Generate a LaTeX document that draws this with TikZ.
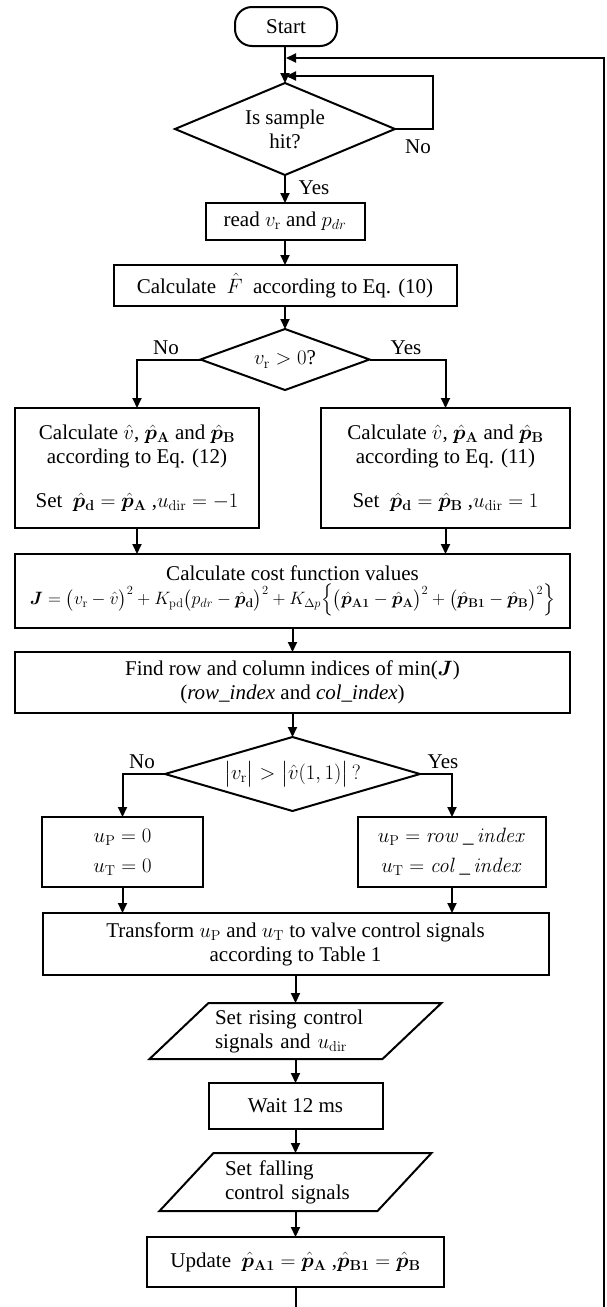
\documentclass[tikz,border=0pt]{standalone}
\usepackage{amsmath}
\usepackage{bm}
\usepackage{graphicx}
\usepackage[no-math]{fontspec}
\setmainfont{Liberation Serif}
\usetikzlibrary{shapes.geometric,arrows.meta}
\newcommand{\phx}[1]{\hat{\bm{p}}_{\mathbf{#1}}}
\tikzset{
  every node/.style={font=\fontsize{21}{24}\selectfont},
  box/.style={draw, line width=2pt, rectangle, inner sep=0pt, outer sep=0pt, align=center},
  dia/.style={draw, line width=2pt, diamond, inner sep=0pt, outer sep=0pt, align=center},
  para/.style={rectangle, inner sep=0pt, outer sep=0pt, align=left},
  lbl/.style={inner sep=0pt},
  ln/.style={line width=2pt},
  arr/.style={line width=2pt, -{Triangle[length=10pt,width=9pt]}},
}
\begin{document}
\begin{tikzpicture}[x=1pt,y=-1pt]
\useasboundingbox (0,0) rectangle (607,1307);
\fill[white] (0,0) rectangle (607,1307);
\clip (0,0) rectangle (607,1307);

\node[box, rounded corners=17pt, minimum width=102pt, minimum height=39pt] (start) at (286,26.5) {Start};
\node[dia, aspect=2.4, minimum width=220pt, minimum height=92pt] (d1) at (285,129) {Is sample\\hit?};
\node[box, minimum width=159pt, minimum height=37pt] (read) at (285,221.5) {read $v_\mathrm{r}$ and $p_{dr}$};
\node[box, minimum width=343pt, minimum height=41pt] (calc) at (285,285.5) {Calculate\ \ $\hat F$\ \ according to Eq. (10)};
\node[dia, aspect=2.77, minimum width=169pt, minimum height=61pt] (d2) at (285,359.5) {$v_\mathrm{r}>0$?};
\node[box, minimum width=244pt, minimum height=120pt] (lb) at (137,468)
  {Calculate $\hat v$, $\phx{A}$ and $\phx{B}$\\according to Eq. (12)\\[20pt]Set\ \ $\phx{d}=\phx{A}$ ,$u_\mathrm{dir}=-1$};
\node[box, minimum width=249pt, minimum height=120pt] (rb) at (445.5,468)
  {Calculate $\hat v$, $\phx{A}$ and $\phx{B}$\\according to Eq. (11)\\[20pt]Set\ \ $\phx{d}=\phx{B}$ ,$u_\mathrm{dir}=1$};
\node[box, minimum width=555pt, minimum height=74pt] (cost) at (292.5,591)
  {Calculate cost function values\\[0pt]
   \resizebox{525pt}{!}{$\bm{J}=\bigl(v_\mathrm{r}-\hat v\bigr)^2+K_\mathrm{pd}\bigl(p_{dr}-\phx{d}\bigr)^2+K_{\Delta p}\Bigl\{\bigl(\phx{A1}-\phx{A}\bigr)^2+\bigl(\phx{B1}-\phx{B}\bigr)^2\Bigr\}$}};
\node[box, minimum width=555pt, minimum height=61pt] (find) at (292.5,682.5)
  {Find row and column indices of min($\bm{J}$)\\(\textit{row\_index} and \textit{col\_index})};
\node[dia, aspect=3.45, minimum width=255pt, minimum height=74pt] (d3) at (292.5,774)
  {$\bigl|v_\mathrm{r}\bigr|>\bigl|\hat v(1,1)\bigr|\,?$};
\node[box, minimum width=161pt, minimum height=70pt] (sl) at (122.5,852)
  {$u_\mathrm{P}=0$\\[6pt]$u_\mathrm{T}=0$};
\node[box, minimum width=188pt, minimum height=70pt] (sr) at (452,852)
  {$u_\mathrm{P}=\mathit{row}\,\_\,\mathit{index}$\\[6pt]$u_\mathrm{T}=\mathit{col}\,\_\,\mathit{index}$};
\node[box, minimum width=506pt, minimum height=62pt] (tr) at (295.5,944)
  {Transform $u_\mathrm{P}$ and $u_\mathrm{T}$ to valve control signals\\according to Table 1};
\node[para, text width=161pt, minimum width=233pt, minimum height=56pt] (p1) at (295.5,1031)
  {Set rising control\\signals and $u_\mathrm{dir}$};
\draw[ln] ([xshift=29.5pt]p1.north west) -- ([xshift=29.5pt]p1.north east)
  -- ([xshift=-29.5pt]p1.south east) -- ([xshift=-29.5pt]p1.south west) -- cycle;
\node[box, minimum width=174pt, minimum height=46pt] (wait) at (295.5,1106) {Wait 12 ms};
\node[para, text width=141pt, minimum width=218pt, minimum height=58pt] (p2) at (295.5,1182)
  {Set falling\\control signals};
\draw[ln] ([xshift=27pt]p2.north west) -- ([xshift=27pt]p2.north east)
  -- ([xshift=-27pt]p2.south east) -- ([xshift=-27pt]p2.south west) -- cycle;
\node[box, minimum width=297pt, minimum height=50pt] (upd) at (295.5,1262)
  {Update\ \ $\phx{A1}=\phx{A}$ ,$\phx{B1}=\phx{B}$};

\node[lbl] (y1) at (314,188) {Yes};
\node[lbl] (n1) at (418,147) {No};
\node[lbl] (n2) at (166,348) {No};
\node[lbl] (y2) at (406,348) {Yes};
\node[lbl] (n3) at (142,762) {No};
\node[lbl] (y3) at (443,762) {Yes};

\coordinate (j0) at (286,58);
\coordinate (j1) at (286,76);
\coordinate (lp) at (433,76);
\coordinate (fb) at (604,1330);

\draw[arr] (start.south -| d1.north) -- (d1);
\draw[arr] (d1.east) -| (lp) -- (j1);
\draw[arr] (d1) -- (read);
\draw[arr] (read) -- (calc);
\draw[arr] (calc) -- (d2);
\draw[arr] (d2.west) -| (lb.north);
\draw[arr] (d2.east) -| (rb.north);
\draw[arr] (lb.south) -- (lb.south |- cost.north);
\draw[arr] (rb.south) -- (rb.south |- cost.north);
\draw[arr] (cost) -- (find);
\draw[arr] (find) -- (d3);
\draw[arr] (d3.west) -| (sl.north);
\draw[arr] (d3.east) -| (sr.north);
\draw[arr] (sl.south) -- (sl.south |- tr.north);
\draw[arr] (sr.south) -- (sr.south |- tr.north);
\draw[arr] (tr) -- (p1);
\draw[arr] (p1) -- (wait);
\draw[arr] (wait) -- (p2);
\draw[arr] (p2) -- (upd);
\draw[arr] (upd.south) -- (upd.south |- fb) -- (fb) |- (j0);
\end{tikzpicture}
\end{document}
